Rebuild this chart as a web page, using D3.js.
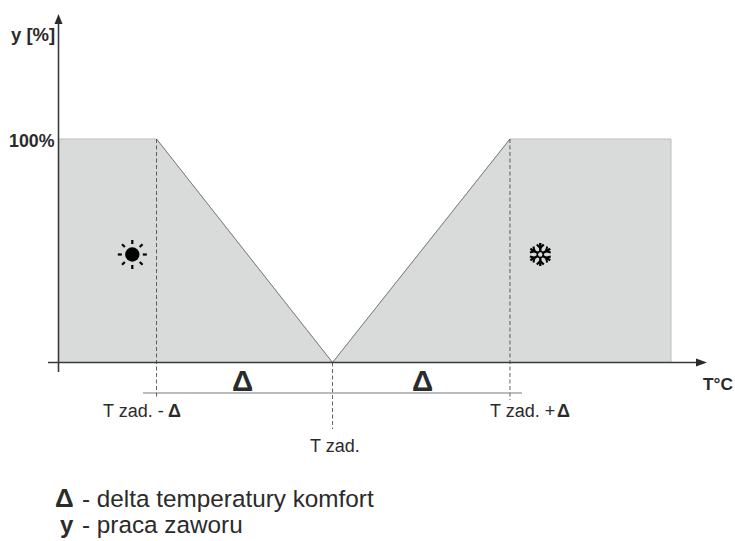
<!DOCTYPE html>
<html>
<head>
<meta charset="utf-8">
<script src="https://cdn.jsdelivr.net/npm/d3@7"></script>
<style>
  html, body { margin: 0; padding: 0; background: #fff; }
  text { font-family: "Liberation Sans", Arial, sans-serif; fill: #2b2b2b; }
</style>
</head>
<body>
<div id="chart"></div>
<script>
// temperature offset from T zad. (delta = 10 units) and valve opening in %
const temps = [-15.57, -10, 0, 10.08, 19.23];
const opening = [100, 100, 0, 100, 100];
const markerTemps = [-10, 0, 10.08];
const markerLabels = ['T zad. -', 'T zad.', 'T zad. +'];
const yTicks = [100];

const width = 735;
const height = 541;

const x = d3.scaleLinear().domain([-15.57, 19.23]).range([58.5, 671]);
const y = d3.scaleLinear().domain([0, 100]).range([362.5, 139]);

const svg = d3.select('#chart').append('svg')
  .attr('width', width)
  .attr('height', height)
  .style('display', 'block');

const points = temps.map((t, i) => [t, opening[i]]);

// shaded area
const area = d3.area().x(d => x(d[0])).y0(y(0)).y1(d => y(d[1]));
svg.append('path')
  .datum(points)
  .attr('d', area)
  .attr('fill', '#d9dada')
  .attr('stroke', '#bcbdbd')
  .attr('stroke-width', 1);

const line = d3.line().x(d => x(d[0])).y(d => y(d[1]));
svg.append('path')
  .datum(points.slice(1, 4))
  .attr('d', line)
  .attr('fill', 'none')
  .attr('stroke', '#777878')
  .attr('stroke-width', 0.9);

// dashed guides
const guideBottom = [398, 429, 400];
markerTemps.forEach((t, i) => {
  svg.append('line')
    .attr('x1', x(t)).attr('x2', x(t))
    .attr('y1', i === 1 ? y(0) : y(100))
    .attr('y2', guideBottom[i])
    .attr('stroke', '#3a3a3a')
    .attr('stroke-width', 0.8)
    .attr('stroke-dasharray', '4,2.5');
});

// delta baseline
svg.append('line')
  .attr('x1', 143).attr('x2', 522)
  .attr('y1', 393).attr('y2', 393)
  .attr('stroke', '#77787a')
  .attr('stroke-width', 1);

// axes
svg.append('line')
  .attr('x1', 48).attr('x2', 697)
  .attr('y1', y(0)).attr('y2', y(0))
  .attr('stroke', '#3a3a3a').attr('stroke-width', 1.6);
svg.append('line')
  .attr('x1', x.range()[0]).attr('x2', x.range()[0])
  .attr('y1', 372).attr('y2', 22)
  .attr('stroke', '#3a3a3a').attr('stroke-width', 1.6);
svg.append('path')
  .attr('d', `M707,${y(0)}L696,${y(0) - 4}L696,${y(0) + 4}Z`)
  .attr('fill', '#2b2b2b');
svg.append('path')
  .attr('d', `M${x.range()[0]},14L${x.range()[0] - 4},24L${x.range()[0] + 4},24Z`)
  .attr('fill', '#2b2b2b');

const yAxis = svg.append('g')
  .attr('transform', `translate(${x.range()[0]},0)`)
  .call(d3.axisLeft(y).tickValues(yTicks).tickSize(0).tickPadding(4).tickFormat(d => d + '%'));
yAxis.select('.domain').remove();
yAxis.selectAll('text')
  .style('font-family', '"Liberation Sans", Arial, sans-serif')
  .style('font-size', '17.8px')
  .style('font-weight', 'bold')
  .attr('dy', '0.4em')
  .attr('fill', '#2b2b2b');

function label(px, py, str, size, weight, anchor) {
  return svg.append('text')
    .attr('x', px).attr('y', py)
    .attr('font-size', size)
    .attr('font-weight', weight || 'normal')
    .attr('text-anchor', anchor || 'start')
    .text(str);
}

label(11, 40.5, 'y [%]', 18.5, 'bold');
label(703, 389.5, 'T°C', 17.3, 'bold');

// big deltas between the markers
label(242.5, 390.5, 'Δ', 29.5, 'bold', 'middle');
label(422.5, 390.5, 'Δ', 29.5, 'bold', 'middle');

// marker labels
label(103, 417, markerLabels[0], 18);
label(168, 417, 'Δ', 18, 'bold');
label(310, 452, markerLabels[1], 18);
label(490, 417, markerLabels[2], 18);
label(557, 417, 'Δ', 18, 'bold');

// notes
label(55, 507, 'Δ', 26, 'bold');
label(82, 507, '- delta temperatury komfort', 24.3);
label(60, 533, 'y', 24, 'bold');
label(82, 533, '- praca zaworu', 24.3);

// sun icon
const sun = svg.append('g').attr('transform', 'translate(132.3,254.5)');
sun.append('circle').attr('r', 7.2).attr('fill', '#000');
d3.range(8).forEach(i => {
  const a = i * Math.PI / 4;
  sun.append('line')
    .attr('x1', Math.cos(a) * 10.5).attr('y1', Math.sin(a) * 10.5)
    .attr('x2', Math.cos(a) * 14.5).attr('y2', Math.sin(a) * 14.5)
    .attr('stroke', '#000').attr('stroke-width', 2.2);
});

// snowflake icon
const flake = svg.append('g').attr('transform', 'translate(540.3,254.5)');
d3.range(6).forEach(i => {
  const arm = flake.append('g').attr('transform', `rotate(${i * 60})`);
  arm.append('line').attr('x1', 0).attr('y1', -2.5).attr('x2', 0).attr('y2', -11.5)
    .attr('stroke', '#000').attr('stroke-width', 2.4);
  arm.append('path').attr('d', 'M-3.5,-10L0,-6.5L3.5,-10')
    .attr('fill', 'none').attr('stroke', '#000').attr('stroke-width', 2);
});
flake.append('circle').attr('r', 3).attr('fill', 'none').attr('stroke', '#000').attr('stroke-width', 1.5);
</script>
</body>
</html>
